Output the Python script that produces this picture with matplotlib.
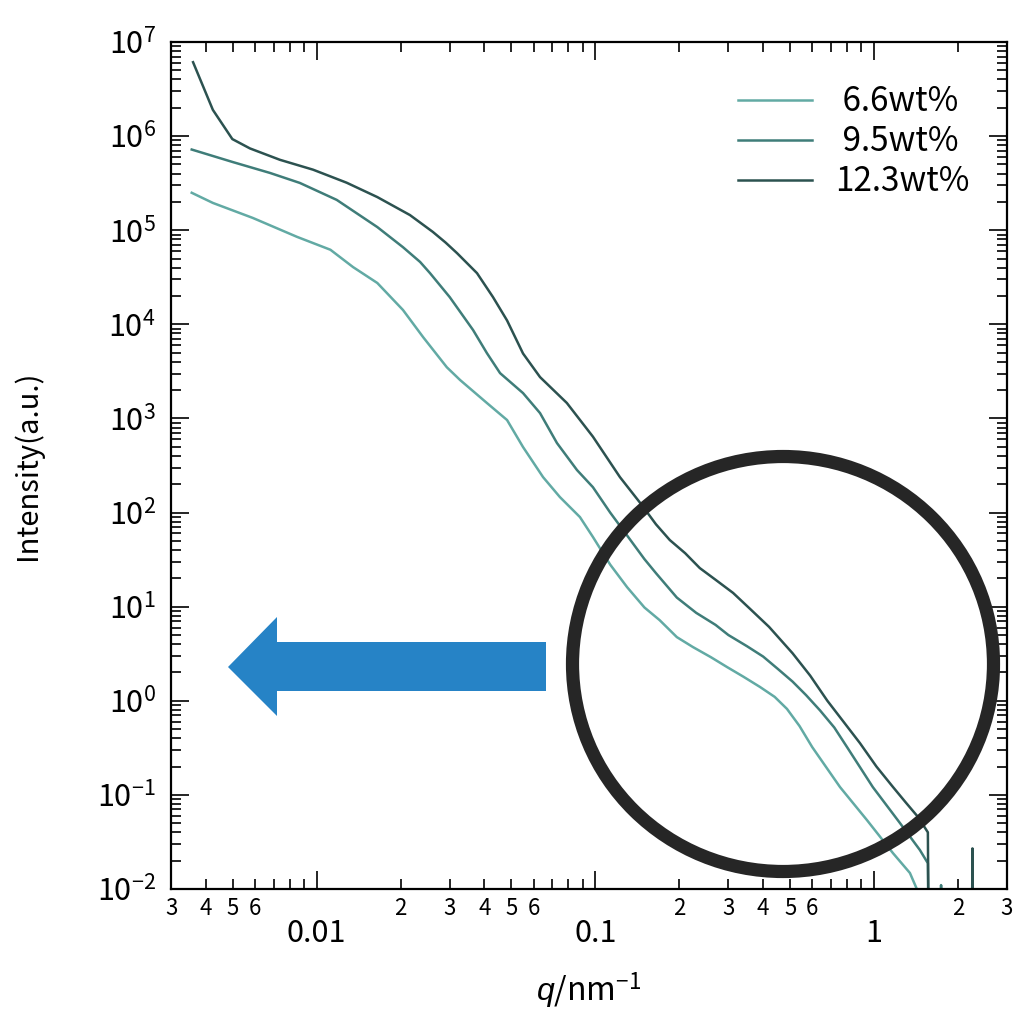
import numpy as np
import matplotlib
matplotlib.use('Agg')
import matplotlib.pyplot as plt
import matplotlib.ticker as ticker
import matplotlib.patches as patches

plt.rcParams['font.family'] = ['Noto Sans CJK JP', 'DejaVu Sans']
plt.rcParams['mathtext.fontset'] = 'custom'
plt.rcParams['mathtext.rm'] = 'Noto Sans CJK JP'
plt.rcParams['mathtext.it'] = 'Liberation Sans:italic'

# SAXS profiles
q66 = [0.00356, 0.00424, 0.0059, 0.0085, 0.0112, 0.0135, 0.0165, 0.0204, 0.0241, 0.0293,
       0.0327, 0.0408, 0.0482, 0.055, 0.0649, 0.0746, 0.088, 0.098, 0.113, 0.13,
       0.150, 0.170, 0.196, 0.224, 0.26, 0.297, 0.34, 0.39, 0.44, 0.487,
       0.54, 0.60, 0.755, 0.943, 1.17, 1.345, 1.5]
I66 = [2.5e5, 1.95e5, 1.35e5, 8.5e4, 6.2e4, 4.06e4, 2.75e4, 1.42e4, 7.3e3, 3.5e3,
       2.56e3, 1.46e3, 962, 497, 238, 146, 89.6, 55, 28, 16.1,
       9.8, 7.2, 4.75, 3.72, 2.9, 2.28, 1.8, 1.4, 1.1, 0.82,
       0.54, 0.322, 0.121, 0.054, 0.024, 0.0148, 0.007]

q95 = [0.00356, 0.0050, 0.0068, 0.0087, 0.0118, 0.0165, 0.0204, 0.0235, 0.0255, 0.030,
       0.0364, 0.0408, 0.0455, 0.055, 0.0633, 0.0728, 0.0859, 0.098, 0.113, 0.130,
       0.150, 0.165, 0.196, 0.23, 0.27, 0.30, 0.35, 0.40, 0.45, 0.51,
       0.57, 0.64, 0.72, 0.80, 0.99, 1.24, 1.46, 1.56, 1.575, 1.73,
       1.74, 1.75]
I95 = [7.2e5, 5.3e5, 4.06e5, 3.18e5, 2.1e5, 1.08e5, 6.6e4, 4.6e4, 3.5e4, 1.95e4,
       8.7e3, 4.95e3, 3.03e3, 1.86e3, 1.14e3, 548, 283, 186, 100, 57,
       32, 22.7, 12.5, 8.6, 6.4, 5.0, 3.8, 2.95, 2.2, 1.6,
       1.15, 0.79, 0.52, 0.322, 0.121, 0.05, 0.026, 0.0188, 0.001, 0.001,
       0.011, 0.001]

q123 = [0.0036, 0.00424, 0.00498, 0.00576, 0.00738, 0.0097, 0.0128, 0.0165, 0.0216, 0.0261,
        0.029, 0.0319, 0.0376, 0.0429, 0.0482, 0.055, 0.0633, 0.079, 0.098, 0.1225,
        0.145, 0.165, 0.185, 0.21, 0.237, 0.27, 0.312, 0.36, 0.42, 0.51,
        0.59, 0.68, 0.78, 0.89, 1.02, 1.17, 1.30, 1.44, 1.56, 1.575,
        2.24, 2.255, 2.27]
I123 = [6.1e6, 1.9e6, 9.3e5, 7.4e5, 5.6e5, 4.4e5, 3.2e5, 2.25e5, 1.45e5, 9.6e4,
        7.4e4, 5.7e4, 3.5e4, 1.95e4, 1.1e4, 4.9e3, 2.75e3, 1.46e3, 640, 238,
        126, 75, 51, 37, 25.7, 19.3, 14, 9.4, 6.1, 3.2,
        1.85, 1.0, 0.59, 0.355, 0.2, 0.121, 0.083, 0.058, 0.040, 0.001,
        0.001, 0.027, 0.001]

labels = [' 6.6wt%', ' 9.5wt%', '12.3wt%']
colors = ['#62aaa4', '#3f7d79', '#2c5250']

fig = plt.figure(figsize=(10.13, 10.10), dpi=100)
ax = fig.add_axes([171/1013, 1 - 889/1010, 836/1013, 847/1010])

ax.plot(q66, I66, color=colors[0], lw=1.8, label=labels[0])
ax.plot(q95, I95, color=colors[1], lw=1.8, label=labels[1])
ax.plot(q123, I123, color=colors[2], lw=1.8, label=labels[2])

ax.set_xscale('log')
ax.set_yscale('log')
ax.set_xlim(0.003, 3)
ax.set_ylim(1e-2, 1e7)

# x ticks: majors labelled lower, minors 2-6 labelled right under the axis
ax.xaxis.set_major_locator(ticker.LogLocator(base=10))
ax.xaxis.set_minor_locator(ticker.LogLocator(base=10, subs=range(2, 10)))
ax.xaxis.set_major_formatter(ticker.FuncFormatter(lambda v, p: '%g' % v))

def minor_lab(v, p):
    m = int(round(v / 10 ** np.floor(np.log10(v) + 1e-9)))
    return str(m) if m in (2, 3, 4, 5, 6) else ''

ax.xaxis.set_minor_formatter(ticker.FuncFormatter(minor_lab))

ax.yaxis.set_major_locator(ticker.LogLocator(base=10, numticks=20))
ax.yaxis.set_minor_locator(ticker.LogLocator(base=10, subs=range(2, 10), numticks=20))
ax.yaxis.set_major_formatter(ticker.FuncFormatter(lambda v, p: r'$\mathregular{10^{%d}}$' % round(np.log10(v))))
ax.yaxis.set_minor_formatter(ticker.NullFormatter())

ax.tick_params(which='both', direction='in', top=True, right=True, width=1.2, color='black')
ax.tick_params(which='major', length=13)
ax.tick_params(which='minor', length=7)
ax.tick_params(axis='x', which='major', labelsize=22, pad=21)
ax.tick_params(axis='x', which='minor', labelsize=16, pad=6)
ax.tick_params(axis='y', which='major', labelsize=22, pad=11)
for s in ax.spines.values():
    s.set_linewidth(1.6)

ax.set_ylabel('Intensity(a.u.)', fontsize=21, labelpad=39)
ax.set_xlabel(r'$q$/nm$^{\mathregular{-1}}$', fontsize=23, labelpad=16)

ax.legend(loc='upper right', bbox_to_anchor=(0.955, 0.95), frameon=False, fontsize=24,
          handlelength=2.2, handletextpad=0.7, labelspacing=0.15, borderpad=0, borderaxespad=0)

# annotations: blue arrow and black circle
arrow_px = [(228, 667), (277, 617), (277, 642), (546, 642), (546, 691), (277, 691), (277, 716)]
arrow = patches.Polygon([(x / 1013, 1 - y / 1010) for x, y in arrow_px], closed=True,
                        transform=fig.transFigure, facecolor='#2683c6', edgecolor='none')
fig.patches.append(arrow)
circle = patches.Ellipse((783 / 1013, 1 - 664 / 1010), 421 / 1013, 415 / 1010,
                         transform=fig.transFigure, fill=False, edgecolor='#262626', lw=9.5)
fig.patches.append(circle)

fig.savefig('out.png', dpi=100)
